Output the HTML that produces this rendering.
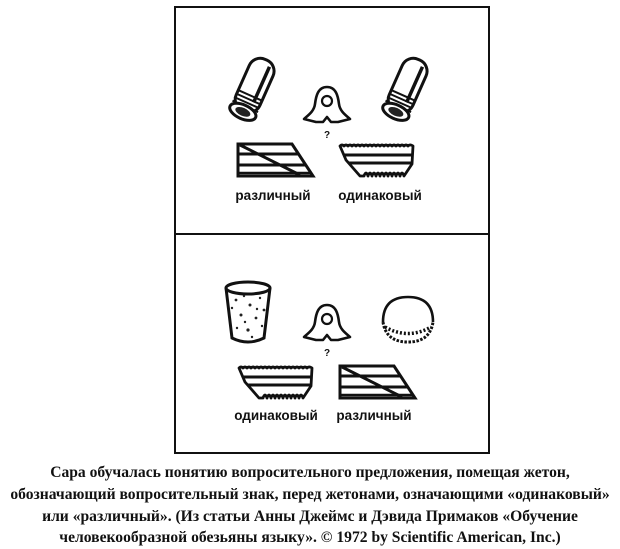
<!DOCTYPE html>
<html><head><meta charset="utf-8"><style>
html,body{margin:0;padding:0;background:#fff;width:620px;height:548px;overflow:hidden}
svg{position:absolute;left:0;top:0}
.cap{position:absolute;left:0;top:462px;width:620px;text-align:center;font-family:"Liberation Serif",serif;font-weight:bold;font-size:15.6px;line-height:21.8px;color:#111;white-space:nowrap}
</style></head><body>
<svg width="620" height="548" viewBox="0 0 620 548">
<defs>
<g id="pipe">
 <rect x="-13" y="-32" width="26" height="56" rx="12" fill="#fff" stroke="#111" stroke-width="3"/>
 <path d="M6,-27 L6,12" stroke="#111" stroke-width="3.5"/>
 <g stroke="#111" stroke-width="2">
  <line x1="-14" y1="7" x2="14" y2="7"/><line x1="-14" y1="11" x2="14" y2="11"/><line x1="-14" y1="15" x2="14" y2="15"/><line x1="-14" y1="19" x2="14" y2="19"/>
 </g>
 <ellipse cx="0" cy="25" rx="14" ry="7" fill="#fff" stroke="#111" stroke-width="3"/>
 <ellipse cx="0" cy="25" rx="8" ry="4" fill="#222"/>
</g>
<g id="bell">
 <path d="M0,-1 C-9,-1 -11,8 -12,16 C-13,24 -20,28 -23,31 L-11,34 L-4,34 L0,29 L4,34 L11,34 L23,31 C20,28 13,24 12,16 C11,8 9,-1 0,-1 Z" fill="#fff" stroke="#111" stroke-width="2.6" stroke-linejoin="round"/>
 <circle cx="0" cy="13" r="5" fill="#fff" stroke="#111" stroke-width="2.2"/>
 <text x="0" y="50" font-family="Liberation Sans,sans-serif" font-weight="bold" font-size="10" text-anchor="middle" fill="#111">?</text>
</g>
<g id="diff">
 <path d="M0,0 L54,0 L75,32 L0,32 Z" fill="#fff" stroke="#111" stroke-width="3"/>
 <line x1="0" y1="10" x2="61" y2="10" stroke="#111" stroke-width="3"/>
 <line x1="0" y1="21" x2="68" y2="21" stroke="#111" stroke-width="3"/>
 <line x1="2" y1="1" x2="62" y2="31" stroke="#111" stroke-width="3"/>
 <line x1="1" y1="29" x2="72" y2="29" stroke="#111" stroke-width="2.5"/>
</g>
<g id="same">
 <path d="M0,2 Q2,0 4,2 Q6,0 8,2 Q10,0 12,2 Q14,0 16,2 Q18,0 20,2 Q22,0 24,2 Q26,0 28,2 Q30,0 32,2 Q34,0 36,2 Q38,0 40,2 Q42,0 44,2 Q46,0 48,2 Q50,0 52,2 Q54,0 56,2 Q58,0 60,2 Q62,0 64,2 Q66,0 68,2 Q70,0 73,2 L72,20 L64,32 Q62,26 60,32 Q58,26 56,32 Q54,26 52,32 Q50,26 48,32 Q46,26 44,32 Q42,26 40,32 Q38,26 36,32 Q34,26 32,32 Q30,26 28,32 Q26,26 24,32 L20,32 L6,16 Z" fill="#fff" stroke="#111" stroke-width="2.8" stroke-linejoin="round"/>
 <line x1="3" y1="11" x2="72" y2="11" stroke="#111" stroke-width="3"/>
 <line x1="8" y1="19" x2="72" y2="19" stroke="#111" stroke-width="3"/>
</g>
</defs>
<rect x="175" y="7" width="314" height="446" fill="none" stroke="#111" stroke-width="2"/>
<line x1="175" y1="234" x2="489" y2="234" stroke="#111" stroke-width="2"/>
<g transform="translate(253,89) rotate(24)"><use href="#pipe"/></g>
<g transform="translate(406,89) rotate(24)"><use href="#pipe"/></g>
<g transform="translate(327,88)"><use href="#bell"/></g>
<g transform="translate(238,144)"><use href="#diff"/></g>
<g transform="translate(340,144)"><use href="#same"/></g>
<text x="273" y="200" font-family="Liberation Sans,sans-serif" font-weight="bold" font-size="13.5" text-anchor="middle" fill="#111">различный</text>
<text x="380" y="200" font-family="Liberation Sans,sans-serif" font-weight="bold" font-size="13.5" text-anchor="middle" fill="#111">одинаковый</text>
<path d="M226,288 L232,338 Q248,346 264,338 L270,288" fill="#fff" stroke="#111" stroke-width="3"/>
<ellipse cx="248" cy="288" rx="22" ry="6" fill="#fff" stroke="#111" stroke-width="3"/>
<g fill="#222">
<circle cx="236" cy="300" r="1.4"/><circle cx="250" cy="305" r="1.5"/><circle cx="260" cy="298" r="1.2"/><circle cx="241" cy="315" r="1.5"/><circle cx="256" cy="318" r="1.4"/><circle cx="237" cy="328" r="1.2"/><circle cx="248" cy="330" r="1.6"/><circle cx="262" cy="326" r="1.2"/><circle cx="244" cy="296" r="1.2"/><circle cx="264" cy="310" r="1.4"/><circle cx="252" cy="337" r="1.2"/><circle cx="232" cy="308" r="1.2"/><circle cx="245" cy="322" r="1.2"/><circle cx="257" cy="309" r="1.2"/>
</g>
<path d="M383,322 Q383,297 408,297 Q433,297 433,322" fill="#fff" stroke="#111" stroke-width="2.6"/>
<path d="M383,322 Q386,342 408,342 Q430,342 433,322" fill="#fff" stroke="#111" stroke-width="3" stroke-dasharray="2.5 1.5"/>
<path d="M385,327 Q408,340 431,327" fill="none" stroke="#111" stroke-width="3.5" stroke-dasharray="2 2"/>
<g transform="translate(327,306)"><use href="#bell"/></g>
<g transform="translate(239,366)"><use href="#same"/></g>
<g transform="translate(340,366)"><use href="#diff"/></g>
<text x="276" y="420" font-family="Liberation Sans,sans-serif" font-weight="bold" font-size="13.5" text-anchor="middle" fill="#111">одинаковый</text>
<text x="374" y="420" font-family="Liberation Sans,sans-serif" font-weight="bold" font-size="13.5" text-anchor="middle" fill="#111">различный</text>
</svg>
<div class="cap">Сара обучалась понятию вопросительного предложения, помещая жетон,<br>обозначающий вопросительный знак, перед жетонами, означающими «одинаковый»<br>или «различный». (Из статьи Анны Джеймс и Дэвида Примаков «Обучение<br>человекообразной обезьяны языку». © 1972 by Scientific American, Inc.)</div>
</body></html>
